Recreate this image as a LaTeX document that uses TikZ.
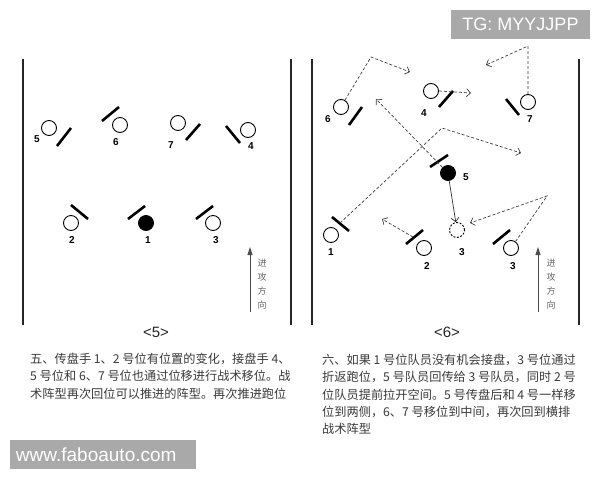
\documentclass[tikz,border=0pt]{standalone}
\usepackage{fontspec}
\setmainfont{Liberation Sans}
\newfontfamily\cjk{Noto Sans CJK SC}
\usetikzlibrary{arrows.meta}
\definecolor{wmgray}{HTML}{A9A9A9}
\definecolor{txtgray}{HTML}{3A3A3A}
\begin{document}
\begin{tikzpicture}[x=1pt,y=-1pt,
  player/.style={circle,draw,line width=0.9pt,minimum size=15pt,inner sep=0pt},
  ball/.style={player,fill=black},
  ghost/.style={player,dash pattern=on 2pt off 1.5pt},
  bar/.style={line width=2.6pt},
  side/.style={line width=1.7pt,draw=black!85},
  num/.style={font=\bfseries\fontsize{10}{10}\selectfont},
  run/.style={draw=black!75,line width=0.7pt,dash pattern=on 3pt off 2pt,
     -{Straight Barb[length=4pt,width=8pt]}},
  pass/.style={draw=black!80,line width=0.7pt,-{Straight Barb[length=4pt,width=8pt]}},
  dir/.style={draw=black!70,line width=0.9pt,-{Triangle[length=8pt,width=5pt]}},
  dirtxt/.style={font=\cjk\fontsize{9}{14}\selectfont,text=black!60,align=center,inner sep=0pt},
  pcap/.style={font=\fontsize{15}{15}\selectfont,text=black!85},
  para/.style={font=\cjk\fontsize{12.2}{17.3}\selectfont,text=txtgray,align=left,inner sep=0pt,anchor=north west},
  wm/.style={fill=wmgray,text=white,inner sep=0pt}
]
\useasboundingbox (0,0) rectangle (600,480);
\fill[white] (0,0) rectangle (600,480);

% ---------- left panel <5> ----------
\draw[side] (23,59) -- (23,325);
\draw[side] (291,59) -- (291,325);

\node[player] (L5) at (49,128) {};
\node[num] (L5n) at (37,139) {5};
\draw[bar] (57,146) -- (71,128);

\node[player] (L6) at (120,125) {};
\node[num] (L6n) at (116,142) {6};
\draw[bar] (102,121) -- (119,107);

\node[player] (L7) at (178,123) {};
\node[num] (L7n) at (171,145) {7};
\draw[bar] (186,140) -- (200,124);

\node[player] (L4) at (248,130) {};
\node[num] (L4n) at (251,146) {4};
\draw[bar] (226,126) -- (240,143);

\node[player] (L2) at (71,223) {};
\node[num] (L2n) at (72,240) {2};
\draw[bar] (71,205) -- (88,219);

\node[ball] (L1) at (146,223) {};
\node[num] (L1n) at (148,240) {1};
\draw[bar] (128,219) -- (145,206);

\node[player] (L3) at (213,223) {};
\node[num] (L3n) at (216,240) {3};
\draw[bar] (196,219) -- (213,206);

\coordinate (La0) at (250,312);
\coordinate (La1) at (250,247);
\draw[dir] (La0) -- (La1);
\node[dirtxt] (Ltxt) at (262,284) {进\\攻\\方\\向};
\node[pcap] (Lcap) at (156,332) {<5>};

% ---------- right panel <6> ----------
\draw[side] (312,59) -- (312,325);
\draw[side] (579,59) -- (579,325);

\node[wm,minimum width=139pt,minimum height=29pt,font=\fontsize{18}{18}\selectfont] (tg) at (520.5,24.5) {TG: MYYJJPP};

\node[player] (R6) at (341,107) {};
\node[num] (R6n) at (328,119) {6};
\draw[bar] (349,125) -- (362,107);
\coordinate (R6a) at (371,57);
\coordinate (R6b) at (410,72);
\draw[run] (R6.60) -- (R6a) -- (R6b);

\node[player] (R4) at (431,91) {};
\node[num] (R4n) at (424,113) {4};
\draw[bar] (439,107) -- (453,91);
\coordinate (R4a) at (471,93);
\draw[run] (R4.east) -- (R4a);

\node[player] (R7) at (528,102) {};
\node[num] (R7n) at (530,119) {7};
\draw[bar] (506,99) -- (519,115);
\coordinate (R7a) at (528,46);
\coordinate (R7b) at (486,65);
\draw[run] (R7.north) -- (R7a) -- (R7b);

\node[ball] (R5) at (448,173) {};
\node[num] (R5n) at (466,177) {5};
\draw[bar] (430,167) -- (448,155);
\coordinate (R5a) at (376,99);
\draw[run] (R5) -- (R5a);

\node[ghost] (R3g) at (457,230) {};
\node[num] (R3gn) at (462,252) {3};
\draw[pass] (R5) -- (R3g);

\node[player] (R1) at (331,235) {};
\node[num] (R1n) at (331,252) {1};
\draw[bar] (332,217) -- (349,231);
\coordinate (R1s) at (340,223);
\coordinate (R1a) at (442,128);
\coordinate (R1b) at (521,153);
\draw[run] (R1s) -- (R1a) -- (R1b);

\node[player] (R2) at (424,248) {};
\node[num] (R2n) at (427,266) {2};
\draw[bar] (406,244) -- (423,230);
\coordinate (R2s) at (413,237);
\coordinate (R2a) at (382,219);
\draw[run] (R2s) -- (R2a);

\node[player] (R3) at (511,248) {};
\node[num] (R3n) at (513,266) {3};
\draw[bar] (493,244) -- (510,230);
\coordinate (R3a) at (547,196);
\coordinate (R3b) at (470,223);
\draw[run] (R3.55) -- (R3a) -- (R3b);

\coordinate (Ra0) at (538,312);
\coordinate (Ra1) at (538,247);
\draw[dir] (Ra0) -- (Ra1);
\node[dirtxt] (Rtxt) at (551,284) {进\\攻\\方\\向};
\node[pcap] (Rcap) at (447,332) {<6>};

% ---------- captions ----------
\node[para] (Lpara) at (30,353) {五、传盘手 1、2 号位有位置的变化，接盘手 4、\\5 号位和 6、7 号位也通过位移进行战术移位。战\\术阵型再次回位可以推进的阵型。再次推进跑位};
\node[para] (Rpara) at (322,354) {六、如果 1 号位队员没有机会接盘，3 号位通过\\折返跑位，5 号队员回传给 3 号队员，同时 2 号\\位队员提前拉开空间。5 号传盘后和 4 号一样移\\位到两侧，6、7 号移位到中间，再次回到横排\\战术阵型};

\node[wm,minimum width=186pt,minimum height=29pt,font=\fontsize{19}{19}\selectfont,text width=174pt,align=left] (web) at (103,454.5) {www.faboauto.com};
\end{tikzpicture}
\end{document}
